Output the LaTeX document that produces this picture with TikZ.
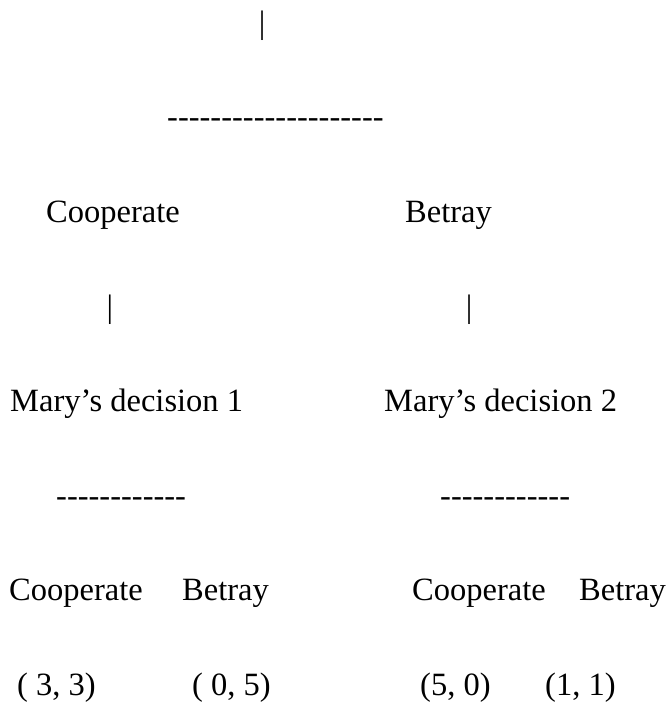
\documentclass[tikz,border=0pt]{standalone}
\usepackage{fontspec}
\setmainfont{Liberation Serif}[Ligatures=TeXOff]
\tikzset{
    txt/.style={anchor=base west, inner sep=0pt, font=\fontsize{32.5}{38}\selectfont},
    bar/.style={txt, anchor=base}
}
\begin{document}
\begin{tikzpicture}[x=1pt, y=-1pt]
    \useasboundingbox (0,0) rectangle (670,706);

    % Root and first split
    \node[bar] (rootbar) at (262,33.5) {|};
    \node[txt] (rootdash) at (167,128) {--------------------};

    % First choices
    \node[txt] (coop) at (46,222.5) {Cooperate};
    \node[txt] (betray) at (405,222.5) {Betray};
    \node[bar] (coopbar) at (110,317) {|};
    \node[bar] (betraybar) at (469,317) {|};

    % Mary's decisions
    \node[txt] (mary1) at (10,411.5) {Mary’s decision 1};
    \node[txt] (mary2) at (384,411.5) {Mary’s decision 2};
    \node[txt] (dash1) at (56,506) {------------};
    \node[txt] (dash2) at (440,506) {------------};

    % Leaves
    \node[txt] (coopA) at (9,600.5) {Cooperate};
    \node[txt] (betrayA) at (182,600.5) {Betray};
    \node[txt] (coopB) at (412,600.5) {Cooperate};
    \node[txt] (betrayB) at (579,600.5) {Betray};

    % Payoffs
    \node[txt] (payAA) at (17,695) {( 3, 3)};
    \node[txt] (payAB) at (192,695) {( 0, 5)};
    \node[txt] (payBA) at (420,695) {(5, 0)};
    \node[txt] (payBB) at (545,695) {(1, 1)};
\end{tikzpicture}
\end{document}
